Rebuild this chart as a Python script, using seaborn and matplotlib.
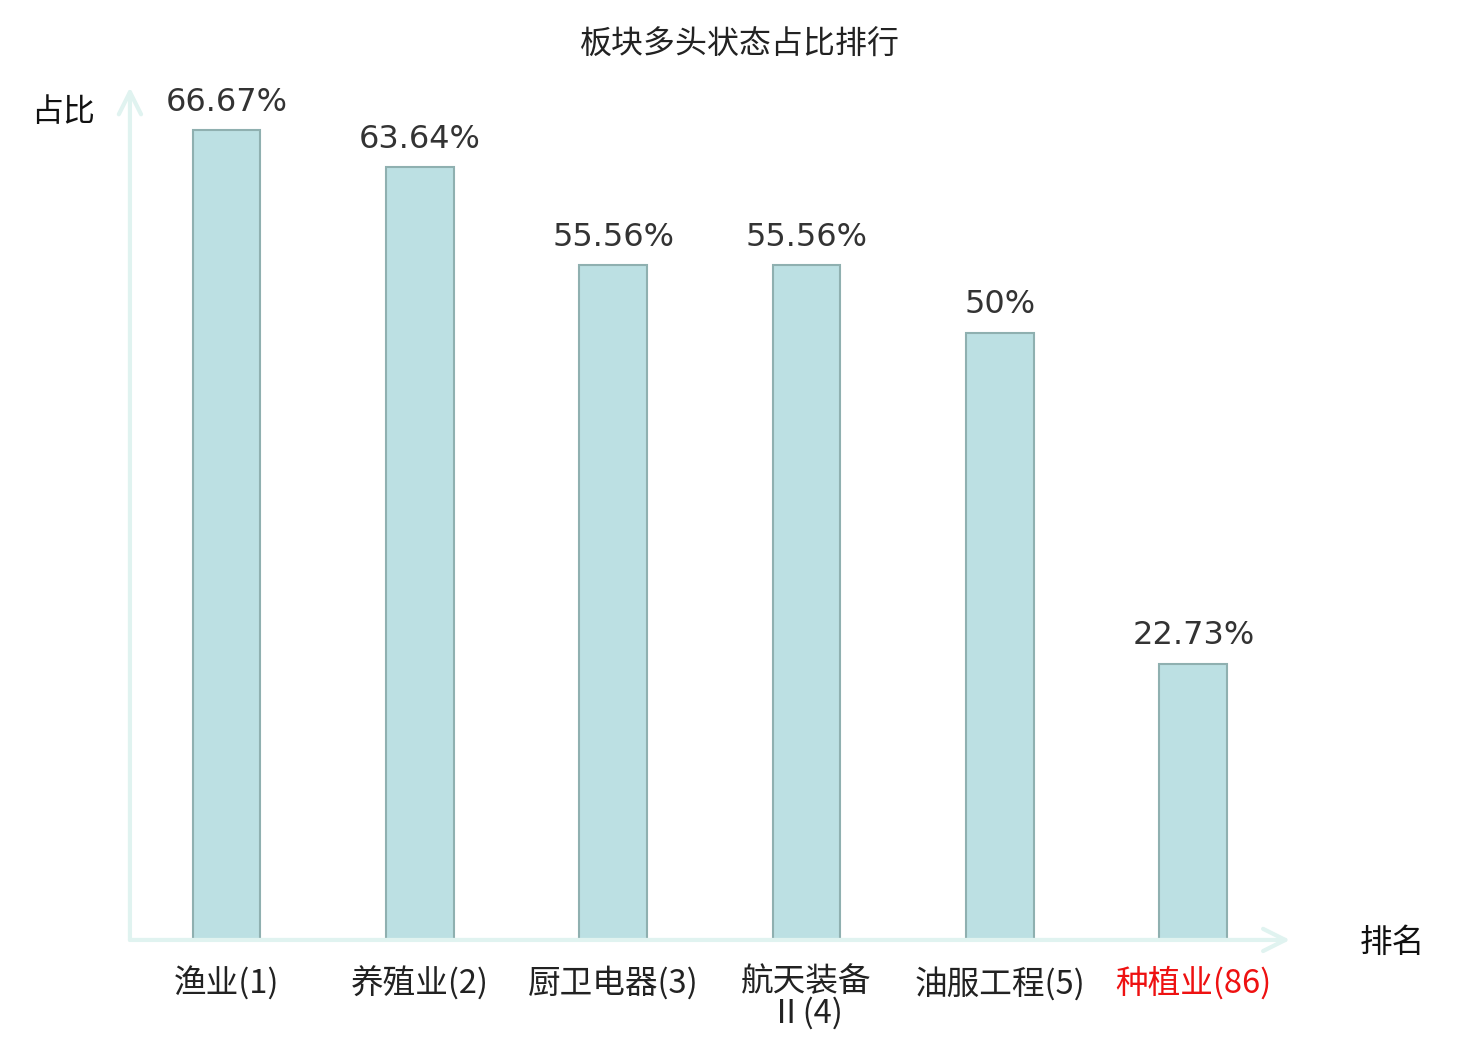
import matplotlib
matplotlib.use("Agg")
import matplotlib.pyplot as plt
import seaborn as sns
import pandas as pd

# Data
sectors = ["渔业(1)", "养殖业(2)", "厨卫电器(3)", "航天装备\nⅡ(4)", "油服工程(5)", "种植业(86)"]
ratios = [66.67, 63.64, 55.56, 55.56, 50, 22.73]
label_colors = ["#222222", "#222222", "#222222", "#222222", "#222222", "#ee1111"]

title = "板块多头状态占比排行"
y_name = "占比"
x_name = "排名"

sns.set_style("white")
plt.rcParams["font.family"] = ["Noto Sans CJK SC", "DejaVu Sans"]

df = pd.DataFrame({"sector": sectors, "ratio": ratios})

fig = plt.figure(figsize=(14.8, 10.4), dpi=100)
ax = fig.add_axes([0.0878, 0.0962, 0.7838, 0.8173])

sns.barplot(data=df, x="sector", y="ratio", ax=ax, width=0.35, color="#bce0e3",
            saturation=1, edgecolor="#8fb0b0", linewidth=1.5)

ax.set_xlim(-0.5, len(sectors) - 0.5)
ax.set_ylim(0, 70)
for s in ax.spines.values():
    s.set_visible(False)
ax.set_yticks([])
ax.set_xlabel("")
ax.set_ylabel("")
ax.tick_params(axis="x", length=0, pad=19)
for lbl, c in zip(ax.get_xticklabels(), label_colors):
    lbl.set_color(c)
    lbl.set_fontsize(23.5)
    lbl.set_linespacing(0.95)
    lbl.set_family(["Noto Sans CJK SC", "DejaVu Sans"])

# value labels
for i, v in enumerate(ratios):
    ax.annotate(f"{v:g}%", xy=(i, v), xytext=(0, 9), textcoords="offset points",
                ha="center", va="bottom", fontsize=23, color="#333333",
                family="DejaVu Sans")

# axis arrows
axis_color = "#e0f3f0"
ax.annotate("", xy=(1.0, 0), xytext=(0, 0), xycoords="axes fraction",
            arrowprops=dict(arrowstyle="->", color=axis_color, lw=3, mutation_scale=40,
                            shrinkA=0, shrinkB=0))
ax.annotate("", xy=(0, 1.003), xytext=(0, 0), xycoords="axes fraction",
            arrowprops=dict(arrowstyle="->", color=axis_color, lw=3, mutation_scale=40,
                            shrinkA=0, shrinkB=0))

fig.text(0.5, 0.957, title, ha="center", va="center", fontsize=23, color="#222222")
fig.text(0.0426, 0.892, y_name, ha="center", va="center", fontsize=23, color="#111111")
fig.text(0.9405, 0.093, x_name, ha="center", va="center", fontsize=23.5, color="#111111")

fig.savefig("out.png", dpi=100)
